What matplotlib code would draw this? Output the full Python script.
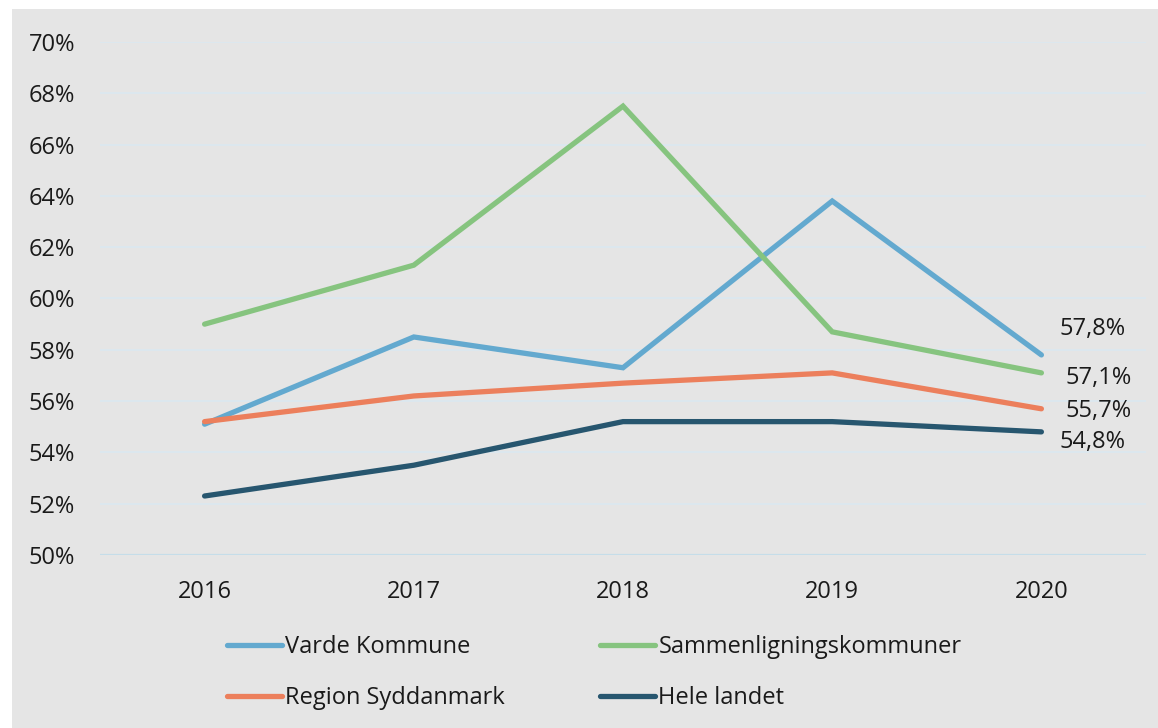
import matplotlib.pyplot as plt
from matplotlib.patches import Rectangle
from matplotlib.lines import Line2D

plt.rcParams['font.family'] = ['Open Sans', 'DejaVu Sans']

years = ["2016", "2017", "2018", "2019", "2020"]
varde = [55.1, 58.5, 57.3, 63.8, 57.8]
sammen = [59.0, 61.3, 67.5, 58.7, 57.1]
region = [55.2, 56.2, 56.7, 57.1, 55.7]
hele = [52.3, 53.5, 55.2, 55.2, 54.8]

series = [
    ("Varde Kommune", varde, "#63a9cf"),
    ("Sammenligningskommuner", sammen, "#86c47f"),
    ("Region Syddanmark", region, "#ec7f5c"),
    ("Hele landet", hele, "#27566f"),
]
# label offsets in points for the end-value labels
label_offsets = [(13, 18.5), (17, -4), (17, -1.5), (13, -7)]

W, H = 1158, 728
FS = 17
fig = plt.figure(figsize=(W / 100, H / 100), dpi=100)
fig.patch.set_facecolor("white")
bg = "#e5e5e5"
fig.patches.append(Rectangle((12 / W, 0), 1 - 12 / W, 1 - 9 / H,
                             transform=fig.transFigure, facecolor=bg,
                             edgecolor="none", zorder=-10))

ax = fig.add_axes([100 / W, (H - 555) / H, (1146 - 100) / W, (555 - 42) / H])
ax.set_facecolor("none")
x = list(range(len(years)))

for (name, vals, col), off in zip(series, label_offsets):
    ax.plot(x, vals, color=col, lw=3.8, solid_capstyle="round",
            solid_joinstyle="miter", zorder=3)
    ax.annotate(f"{vals[-1]:.1f}%".replace(".", ","), (x[-1], vals[-1]),
                xytext=off, textcoords="offset points", fontsize=FS,
                va="center", ha="left", color="#1a1a1a")

ax.set_xlim(-0.5, 4.5)
ax.set_ylim(50, 70)
ax.set_yticks(range(50, 71, 2))
ax.set_yticklabels([f"{v}%" for v in range(50, 71, 2)])
ax.set_xticks(x)
ax.set_xticklabels(years)
ax.tick_params(axis="both", length=0, labelsize=FS, colors="#1a1a1a")
ax.tick_params(axis="y", pad=18)
ax.tick_params(axis="x", pad=18)
ax.grid(axis="y", color="#dce8f0", lw=1.3, zorder=1)
ax.axhline(50, color="#c5dde9", lw=1.6, zorder=2)
for s in ax.spines.values():
    s.set_visible(False)

handles = [Line2D([], [], color=c, lw=3.8, solid_capstyle="round") for _, _, c in series]
labels = [n for n, _, _ in series]
order = [0, 2, 1, 3]
fig.legend([handles[i] for i in order], [labels[i] for i in order], ncol=2,
           loc="upper left", bbox_to_anchor=(206 / W, 1 - 614 / H),
           frameon=False, fontsize=FS, handlelength=2.3, handletextpad=0.15,
           columnspacing=4.05, labelspacing=1.15, labelcolor="#1a1a1a")

fig.savefig("out.png", dpi=100, facecolor=fig.get_facecolor())
